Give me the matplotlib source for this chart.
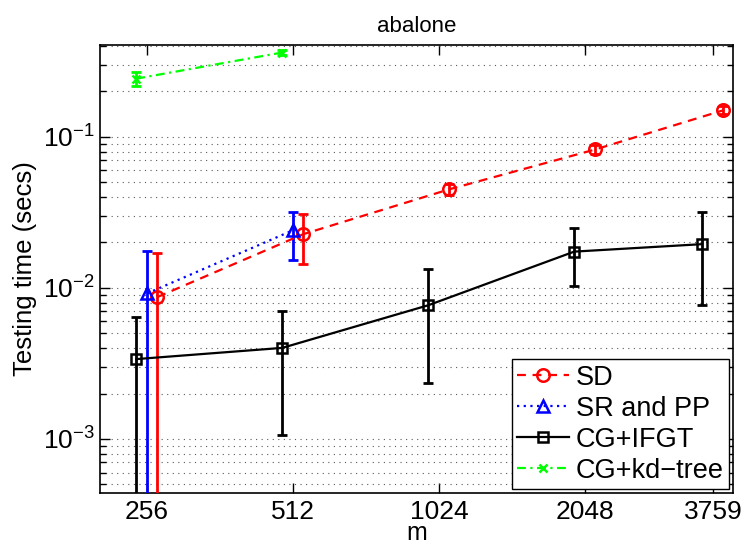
import matplotlib
matplotlib.use('Agg')
import matplotlib.pyplot as plt
from matplotlib.ticker import FixedLocator, FixedFormatter, LogLocator, NullFormatter

# x values (m) and per-method testing times
m = [256, 512, 1024, 2048, 3759]

sd_mean = [0.0087, 0.0227, 0.045, 0.0826, 0.150]
sd_low = [1e-4, 0.0145, 0.041, 0.0765, 0.141]
sd_high = [0.0170, 0.031, 0.049, 0.089, 0.159]

srpp_m = [256, 512]
srpp_mean = [0.0092, 0.0241]
srpp_low = [1e-4, 0.0154]
srpp_high = [0.0177, 0.0318]

ifgt_mean = [0.00338, 0.00401, 0.00768, 0.0174, 0.0195]
ifgt_low = [1e-4, 0.00106, 0.00235, 0.0103, 0.00776]
ifgt_high = [0.00643, 0.00701, 0.01325, 0.0248, 0.0316]

kd_m = [256, 512]
kd_mean = [0.243, 0.362]
kd_low = [0.216, 0.350]
kd_high = [0.268, 0.375]

tick_labels = ['256', '512', '1024', '2048', '3759']

plt.rcParams['font.family'] = ['Liberation Sans', 'DejaVu Sans']
plt.rcParams['mathtext.fontset'] = 'custom'
plt.rcParams['mathtext.rm'] = 'Liberation Sans'
plt.rcParams['mathtext.it'] = 'Liberation Sans'

fig = plt.figure(figsize=(7.48, 5.48), dpi=100)
ax = fig.add_axes([100 / 748, 55 / 548, 633 / 748, 448 / 548])


def draw(xs, shift, mean, low, high, color, ls, marker, ms, label):
    xs = [x * shift for x in xs]
    err = [[mu - lo for mu, lo in zip(mean, low)],
           [hi - mu for mu, hi in zip(mean, high)]]
    ax.errorbar(xs, mean, yerr=err, fmt='none', ecolor=color, elinewidth=2,
                capsize=3.6, capthick=2, zorder=3)
    ax.plot(xs, mean, color=color, linestyle=ls, lw=1.6, marker=marker, ms=ms,
            mfc='none', mec=color, mew=1.8, label=label, zorder=4)


draw(m, 1.05, sd_mean, sd_low, sd_high, 'red', (0, (4, 3)), 'o', 9, 'SD')
draw(srpp_m, 1.0, srpp_mean, srpp_low, srpp_high, 'blue', (0, (1, 2)), '^', 9, 'SR and PP')
draw(m, 0.95, ifgt_mean, ifgt_low, ifgt_high, 'black', '-', 's', 7.5, 'CG+IFGT')
draw(kd_m, 0.95, kd_mean, kd_low, kd_high, '#00ff00', (0, (4, 2, 1, 2)), 'x', 6, 'CG+kd\u2212tree')

ax.set_xscale('log', base=2)
ax.set_yscale('log')
ax.set_xlim(204.8, 4135)
ax.set_ylim(4.39e-4, 0.406)
ax.xaxis.set_major_locator(FixedLocator(m))
ax.xaxis.set_major_formatter(FixedFormatter(tick_labels))
ax.xaxis.set_minor_locator(FixedLocator([]))
ax.yaxis.set_major_locator(LogLocator(base=10))
ax.yaxis.set_minor_locator(LogLocator(base=10, subs=range(2, 10)))
ax.yaxis.set_minor_formatter(NullFormatter())

ax.grid(True, axis='y', which='both', linestyle=(0, (1, 4)), color='0.35', lw=0.8)
ax.tick_params(which='both', direction='in', top=True, right=True, labelsize=19, width=1)
ax.tick_params(axis='x', pad=5)
ax.tick_params(axis='y', pad=4)
ax.tick_params(which='major', length=7)
ax.tick_params(which='minor', length=4)
for s in ax.spines.values():
    s.set_linewidth(1.2)

ax.set_xlabel('m', fontsize=18, labelpad=-2)
ax.set_ylabel('Testing time (secs)', fontsize=18.5, labelpad=4)
ax.set_title('abalone', fontsize=16, pad=9)

leg = ax.legend(loc='lower right', fontsize=19.5, fancybox=False, edgecolor='black',
                framealpha=1, handlelength=1.9, handletextpad=0.25, borderpad=0.2,
                labelspacing=0.18, borderaxespad=0.15)
leg.get_frame().set_linewidth(1)

fig.savefig('out.png', dpi=100)
